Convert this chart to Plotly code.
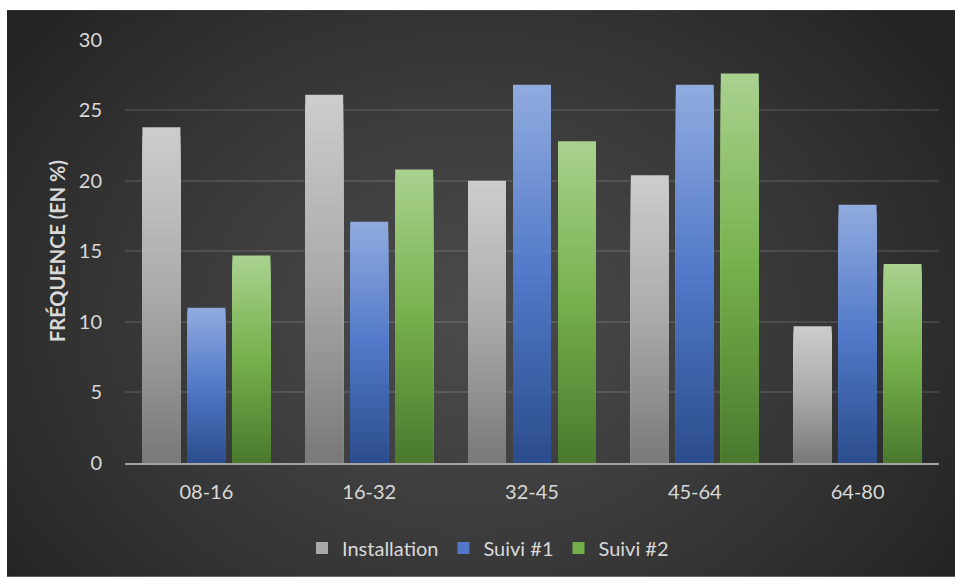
import base64
import struct
import zlib

import numpy as np
import plotly.graph_objects as go

# Age groups and frequencies (%) per survey round
categories = ["08-16", "16-32", "32-45", "45-64", "64-80"]
installation = [23.8, 26.1, 20.0, 20.4, 9.7]
suivi_1 = [11.0, 17.1, 26.8, 26.8, 18.3]
suivi_2 = [14.7, 20.8, 22.8, 27.6, 14.1]

series_names = ["Installation", "Suivi #1", "Suivi #2"]
series_values = [installation, suivi_1, suivi_2]

# Vertical gradient stops (top, middle, bottom) for each series
gradient_stops = [
    [(204, 204, 204), (170, 170, 170), (122, 122, 122)],
    [(143, 170, 222), (82, 121, 200), (44, 78, 142)],
    [(169, 209, 142), (118, 176, 76), (75, 122, 46)],
]

FONT = "Lato, Carlito, Calibri, sans-serif"
TEXT = "#d9d9d9"

W, H = 955, 578
ML, MR, MT, MB = 125, 16, 39, 114


def png_data_uri(rgb):
    h, w, _ = rgb.shape
    raw = b"".join(b"\x00" + rgb[i].tobytes() for i in range(h))

    def chunk(tag, data):
        return (struct.pack(">I", len(data)) + tag + data
                + struct.pack(">I", zlib.crc32(tag + data) & 0xFFFFFFFF))

    png = (b"\x89PNG\r\n\x1a\n"
           + chunk(b"IHDR", struct.pack(">IIBBBBB", w, h, 8, 2, 0, 0, 0))
           + chunk(b"IDAT", zlib.compress(raw, 9))
           + chunk(b"IEND", b""))
    return "data:image/png;base64," + base64.b64encode(png).decode()


# Dark radial backdrop for the chart panel
bx0, by0, bx1, by1 = 7, 10, W, H
gw, gh = (bx1 - bx0) // 2, (by1 - by0) // 2
yy, xx = np.mgrid[0:gh, 0:gw].astype(float)
cx, cy = (470 - bx0) / 2, (320 - by0) / 2
r = np.sqrt(((xx - cx) / 290.0) ** 2 + ((yy - cy) / 230.0) ** 2)
t = np.clip(r, 0, 1) ** 1.3
inner, outer = 74.0, 36.0
val = (inner + (outer - inner) * t).astype(np.uint8)
bg = np.stack([val, val, val], axis=-1)
bg_uri = png_data_uri(bg)

pw, ph = W - ML - MR, H - MT - MB


def px_to_paper_x(px):
    return (px - ML) / pw


def px_to_paper_y(py):
    return (H - MB - py) / ph


def lerp(c0, c1, f):
    return tuple(int(round(a + (b - a) * f)) for a, b in zip(c0, c1))


def gradient_color(stops, f):
    # f = 0 at the top of a bar, 1 at its base
    if f <= 0.5:
        c = lerp(stops[0], stops[1], f / 0.5)
    else:
        c = lerp(stops[1], stops[2], (f - 0.5) / 0.5)
    return "rgb(%d,%d,%d)" % c


N_LAYERS = 40
fig = go.Figure()
for name, values, stops in zip(series_names, series_values, gradient_stops):
    for k in range(N_LAYERS):
        frac = (N_LAYERS - k) / N_LAYERS
        fig.add_trace(go.Bar(
            x=categories,
            y=[v * frac for v in values],
            name=name,
            legendgroup=name,
            offsetgroup=name,
            showlegend=(k == N_LAYERS // 2),
            marker=dict(color=gradient_color(stops, k / (N_LAYERS - 1)), line=dict(width=0)),
            hovertemplate="%{x}: " + "%{customdata}<extra>" + name + "</extra>",
            customdata=values,
        ))

fig.update_layout(
    width=W,
    height=H,
    margin=dict(l=ML, r=MR, t=MT, b=MB, pad=0),
    paper_bgcolor="white",
    plot_bgcolor="rgba(0,0,0,0)",
    barmode="group",
    bargap=0.171,
    bargroupgap=0.156,
    font=dict(family=FONT, color=TEXT, size=20),
    images=[dict(
        source=bg_uri,
        xref="paper", yref="paper",
        x=px_to_paper_x(bx0), y=px_to_paper_y(by0),
        sizex=px_to_paper_x(bx1) - px_to_paper_x(bx0),
        sizey=px_to_paper_y(by0) - px_to_paper_y(by1),
        xanchor="left", yanchor="top",
        sizing="stretch", layer="below",
    )],
    legend=dict(
        orientation="h",
        x=px_to_paper_x(488), xanchor="center",
        y=px_to_paper_y(548), yanchor="middle",
        font=dict(family=FONT, size=20, color=TEXT),
        bgcolor="rgba(0,0,0,0)",
        itemwidth=30,
        traceorder="normal",
    ),
    showlegend=True,
)

fig.update_xaxes(
    showgrid=False,
    showline=True,
    linecolor="#a3a3a3",
    linewidth=2,
    ticks="",
    ticklabelstandoff=10,
    tickfont=dict(family=FONT, size=20, color=TEXT),
)

fig.update_yaxes(
    range=[0, 30.05],
    tick0=0,
    dtick=5,
    showgrid=True,
    gridcolor="rgba(255,255,255,0.11)",
    gridwidth=1.5,
    zeroline=False,
    showline=False,
    ticks="",
    ticklabelstandoff=22,
    tickfont=dict(family=FONT, size=20, color=TEXT),
    title=dict(
        text="<b>FRÉQUENCE (EN %)</b>",
        font=dict(family=FONT, size=20, color=TEXT),
        standoff=7,
    ),
)

fig.write_html("out.html")
